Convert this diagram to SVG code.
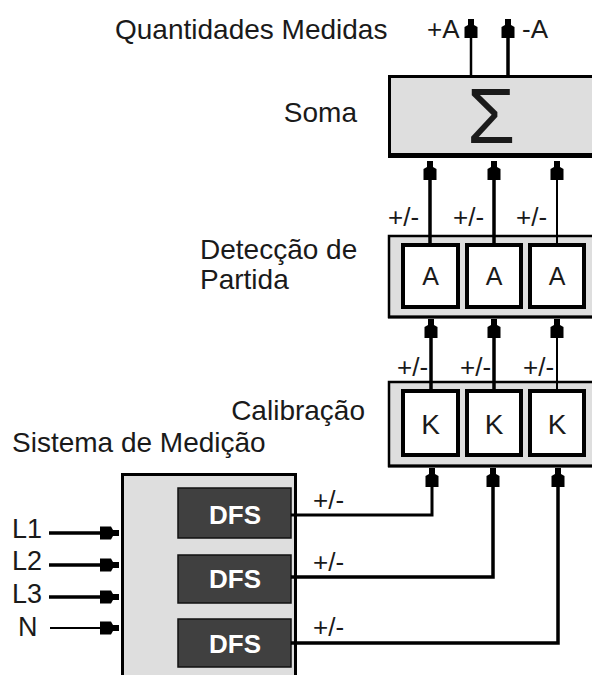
<svg xmlns="http://www.w3.org/2000/svg" width="592" height="675" viewBox="0 0 592 675">
<defs>
<marker id="ah" markerUnits="userSpaceOnUse" markerWidth="22" markerHeight="16" viewBox="-21 -8 22 16" refX="0" refY="0" orient="auto">
<path d="M0,-3 L-6,-3 L-8,-6.5 L-19,-6.5 L-19,6.5 L-8,6.5 L-6,3 L0,3 Z" fill="#000"/>
</marker>
</defs>
<style>
.lbl{font-family:"Liberation Sans",Arial,sans-serif;font-size:28px;fill:#1a1a1a}
.pm{font-size:26px}
.grey{fill:#dedede;stroke:#000;stroke-width:2.5}
.inner{fill:#fff;stroke:#000;stroke-width:4}
.dfs{fill:#404040;stroke:#111;stroke-width:1.5}
.dfst{font-family:"Liberation Sans",Arial,sans-serif;font-weight:bold;font-size:26px;fill:#fff;text-anchor:middle}
.ctr{text-anchor:middle}
.w{fill:none;stroke:#000;marker-end:url(#ah)}
.t{stroke-width:3.5}
.n{stroke-width:2}
</style>
<rect width="592" height="675" fill="#fff"/>

<text class="lbl" x="115" y="39">Quantidades Medidas</text>

<g id="soma">
<rect class="grey" x="389.5" y="76.5" width="220" height="78" style="stroke-width:3"/>
<line x1="388" y1="156" x2="600" y2="156" stroke="#000" stroke-width="4"/>
<text class="lbl" x="491" y="143" style="text-anchor:middle;font-size:78px">Σ</text>
<text class="lbl" x="357" y="122" style="text-anchor:end">Soma</text>
</g>

<g id="deteccao">
<rect class="grey" x="389" y="236" width="220" height="81"/>
<line x1="388" y1="317" x2="600" y2="317" stroke="#000" stroke-width="3"/>
<text class="lbl" x="200" y="259">Detecção de</text>
<text class="lbl" x="200" y="289">Partida</text>
</g>
<g id="a1"><rect class="inner" x="403" y="245" width="55" height="62"/><text class="lbl ctr" x="430.5" y="285" style="font-size:25px">A</text></g>
<g id="a2"><rect class="inner" x="467" y="245" width="54" height="62"/><text class="lbl ctr" x="494" y="285" style="font-size:25px">A</text></g>
<g id="a3"><rect class="inner" x="530" y="245" width="54" height="62"/><text class="lbl ctr" x="557" y="285" style="font-size:25px">A</text></g>

<g id="calibracao">
<rect class="grey" x="389" y="382" width="220" height="84"/>
<line x1="388" y1="466" x2="600" y2="466" stroke="#000" stroke-width="3"/>
<text class="lbl" x="365" y="420" style="text-anchor:end">Calibração</text>
</g>
<g id="k1"><rect class="inner" x="403" y="391" width="55" height="64"/><text class="lbl ctr" x="430.5" y="434">K</text></g>
<g id="k2"><rect class="inner" x="467" y="391" width="54" height="64"/><text class="lbl ctr" x="494" y="434">K</text></g>
<g id="k3"><rect class="inner" x="530" y="391" width="54" height="64"/><text class="lbl ctr" x="557" y="434">K</text></g>

<g id="sistema">
<text class="lbl" x="12" y="452">Sistema de Medição</text>
<rect x="122.5" y="474.5" width="173" height="230" fill="#dedede" stroke="#000" stroke-width="3"/>
</g>
<g id="dfs1"><rect class="dfs" x="178" y="488" width="113" height="50"/><text class="dfst" x="235" y="524">DFS</text></g>
<g id="dfs2"><rect class="dfs" x="178" y="555" width="113" height="48"/><text class="dfst" x="235" y="588">DFS</text></g>
<g id="dfs3"><rect class="dfs" x="178" y="619" width="113" height="48"/><text class="dfst" x="235" y="653">DFS</text></g>

<g id="inputs">
<text class="lbl" x="12" y="538" style="font-size:27px">L1</text>
<text class="lbl" x="12" y="570" style="font-size:27px">L2</text>
<text class="lbl" x="12" y="603" style="font-size:27px">L3</text>
<text class="lbl" x="18" y="636" style="font-size:27px">N</text>
</g>

<g id="connectors">
<path class="w" style="stroke-width:2.5" d="M471,75 V19"/>
<path class="w t" d="M508,75 V19"/>
<path class="w t" d="M430,243 V161"/>
<path class="w t" d="M494,243 V161"/>
<path class="w n" d="M557,243 V161"/>
<path class="w t" d="M431,389 V319"/>
<path class="w t" d="M494,389 V319"/>
<path class="w n" d="M557,389 V319"/>
<path class="w" style="stroke-width:3" d="M291,515 H432 V468"/>
<path class="w t" d="M291,577 H493 V468"/>
<path class="w t" d="M291,643 H558 V468"/>
<path class="w t" d="M49,533 H119"/>
<path class="w t" d="M49,565 H119"/>
<path class="w t" d="M49,597 H119"/>
<path class="w n" d="M50,628 H119"/>
</g>

<g id="labels">
<text class="lbl pm" x="427" y="38">+A</text>
<text class="lbl pm" x="522" y="38">-A</text>
<text class="lbl pm" x="388" y="226">+/-</text>
<text class="lbl pm" x="453" y="226">+/-</text>
<text class="lbl pm" x="516" y="226">+/-</text>
<text class="lbl pm" x="397" y="376">+/-</text>
<text class="lbl pm" x="460" y="376">+/-</text>
<text class="lbl pm" x="523" y="376">+/-</text>
<text class="lbl pm" x="313" y="509">+/-</text>
<text class="lbl pm" x="313" y="571">+/-</text>
<text class="lbl pm" x="313" y="636">+/-</text>
</g>
</svg>
